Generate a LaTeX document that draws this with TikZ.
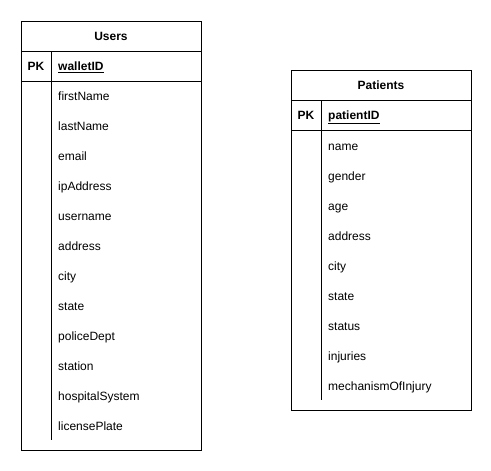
\documentclass[tikz,border=0pt]{standalone}
\usepackage{fontspec}
\setmainfont{Liberation Sans}
\begin{document}
\begin{tikzpicture}[x=1pt,y=-1pt,
  frame/.style={draw=black,line width=1pt},
  sep/.style={draw=black,line width=1pt},
  txt/.style={font=\fontsize{12}{14}\selectfont,inner sep=0pt,text height=11.6pt,text depth=3pt},
  title/.style={txt,font=\fontsize{12}{14}\selectfont\bfseries,anchor=center},
  pk/.style={txt,font=\fontsize{12}{14}\selectfont\bfseries,anchor=center},
  fld/.style={txt,anchor=west}]
\useasboundingbox[fill=white] (0,0) rectangle (491,471);
% Users table
\draw[frame] (21,21) rectangle (201,450);
\draw[sep] (21,51) -- (201,51);
\draw[sep] (21,81) -- (201,81);
\draw[sep] (51,51) -- (51,440);
\node[title] (utitle) at (111,36) {Users};
\node[pk] (upk) at (36,66) {PK};
\node[fld] (uid) at (58,66) {\bfseries\underline{walletID}};
\foreach \t [count=\i from 0] in {firstName,lastName,email,ipAddress,username,address,city,state,policeDept,station,hospitalSystem,licensePlate}
  \node[fld] (u\i) at (58,96+30*\i) {\t};
% Patients table
\draw[frame] (291,70) rectangle (471,410);
\draw[sep] (291,100) -- (471,100);
\draw[sep] (291,130) -- (471,130);
\draw[sep] (321,100) -- (321,400);
\node[title] (ptitle) at (381,85) {Patients};
\node[pk] (ppk) at (306,115) {PK};
\node[fld] (pid) at (328,115) {\bfseries\underline{patientID}};
\foreach \t [count=\i from 0] in {name,gender,age,address,city,state,status,injuries,mechanismOfInjury}
  \node[fld] (p\i) at (328,146+30*\i) {\t};
\end{tikzpicture}
\end{document}
